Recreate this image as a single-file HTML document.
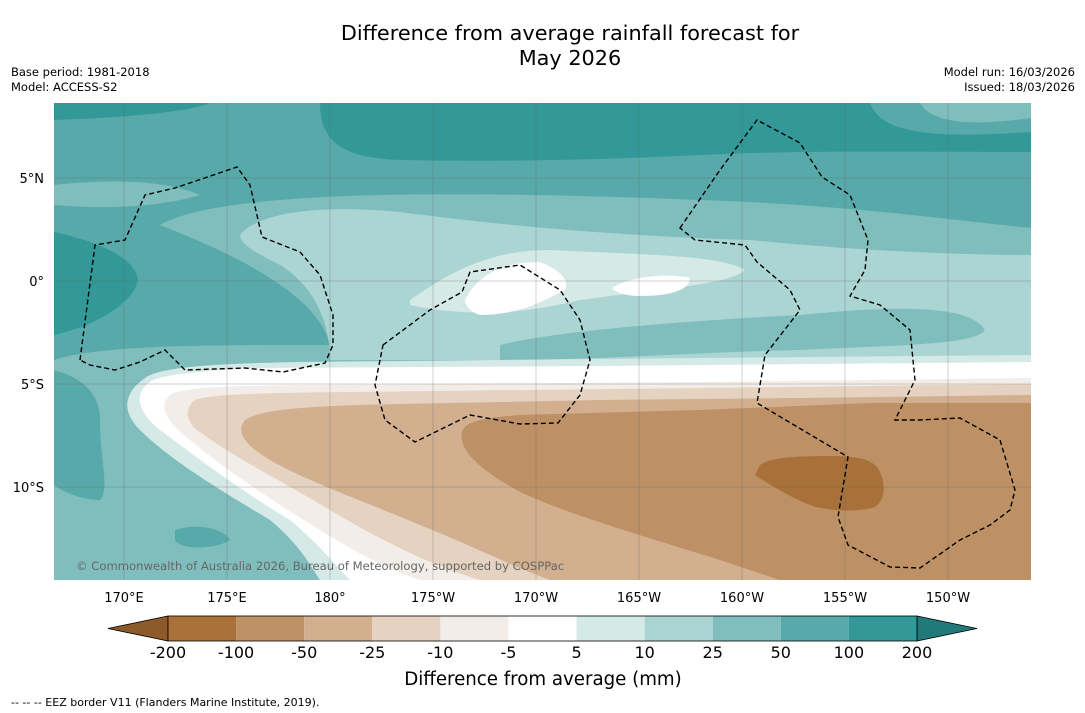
<!DOCTYPE html>
<html><head><meta charset="utf-8">
<style>
body{margin:0;background:#fff;font-family:"DejaVu Sans","Liberation Sans",sans-serif;}
#wrap{position:relative;width:1085px;height:713px;overflow:hidden;background:#fff;}
.t{position:absolute;white-space:nowrap;color:#000;}
</style></head><body>
<div id="wrap">
<div class="t" style="left:0;width:1140px;top:21px;text-align:center;font-size:20.8px;line-height:25px;">Difference from average rainfall forecast for<br>May 2026</div>
<div class="t" style="left:11px;top:65px;font-size:11.5px;line-height:15px;">Base period: 1981-2018<br>Model: ACCESS-S2</div>
<div class="t" style="right:10px;top:65px;font-size:11.5px;line-height:15px;text-align:right;">Model run: 16/03/2026<br>Issued: 18/03/2026</div>
<svg id="map" width="1085" height="713" style="position:absolute;left:0;top:0">
<defs><clipPath id="mc"><rect x="54" y="103" width="977" height="477"/></clipPath></defs>
<g clip-path="url(#mc)">
<rect x="54" y="103" width="977" height="477" fill="#58a9a9"/>
<path fill="#329998" d="M320,103 L1031,103 L1031,152 C900,152 800,150 700,155 C600,160 500,162 400,160 C340,158 320,140 320,103 Z"/>
<path fill="#58a9a9" d="M870,103 C880,130 920,140 1031,132 L1031,103 Z"/>
<path fill="#80bebd" d="M920,103 C930,120 960,128 1031,118 L1031,103 Z"/>
<path fill="#329998" d="M54,103 L210,103 C190,112 120,118 54,120 Z"/>
<path fill="#329998" d="M54,232 C90,240 135,255 138,280 C135,300 100,325 54,335 Z"/>
<path fill="#80bebd" d="M54,185 C100,180 160,178 200,195 C150,210 90,208 54,205 Z"/>
<path fill="#80bebd" d="M160,225 C220,190 450,190 700,200 C850,205 950,220 1031,228 L1031,580 L54,580 L54,360 C100,345 200,345 330,345 C320,300 250,260 160,225 Z"/>
<path fill="#58a9a9" d="M54,370 C90,380 100,400 100,420 C100,460 110,490 100,500 C80,500 60,490 54,485 Z"/>
<path fill="#58a9a9" d="M175,530 C200,522 225,530 230,540 C215,550 180,550 175,540 Z"/>
<path fill="#aad5d3" d="M240,235 C260,210 330,205 400,212 C500,225 600,235 750,240 C850,250 950,255 1031,255 L1031,360 L330,360 C330,330 320,290 280,265 C260,255 240,245 240,235 Z"/>
<path fill="#80bebd" d="M500,345 C560,330 700,320 800,315 C900,305 970,305 985,330 C975,345 900,345 800,350 C700,352 600,360 500,360 Z"/>
<path fill="#d5e9e7" d="M410,300 C440,280 480,250 550,250 C650,255 720,255 745,270 C730,285 650,290 580,300 C540,310 480,320 410,305 Z"/>
<path fill="#fff" d="M465,300 C480,270 510,262 540,262 C560,270 570,280 565,290 C545,300 520,315 480,315 C470,312 465,305 465,300 Z"/>
<path fill="#fff" d="M612,288 C630,276 670,273 690,278 C690,290 670,296 640,296 C625,296 615,292 612,288 Z"/>
<path fill="#d5e9e7" d="M1031,355 L700,358 L300,362 C200,364 160,368 145,378 C125,392 120,410 140,430 C170,460 220,490 270,520 C300,545 310,565 320,580 L1031,580 Z"/>
<path fill="#fff" d="M1031,362 L600,366 L250,368 C190,372 160,375 150,382 C135,392 135,410 160,430 C200,460 240,490 290,520 C320,545 335,565 350,580 L1031,580 Z"/>
<path fill="#f2ede8" d="M1031,378 L700,382 L300,385 C220,386 180,388 170,395 C158,405 165,420 190,440 C220,465 270,500 320,530 C360,555 390,570 420,580 L1031,580 Z"/>
<path fill="#e5d2c0" d="M1031,384 L700,388 L350,392 C260,393 210,394 195,400 C182,410 188,425 200,432 C230,455 280,480 330,510 C380,540 430,565 480,580 L1031,580 Z"/>
<path fill="#d1af8f" d="M1031,395 L800,398 L600,400 L400,404 C300,406 260,410 245,420 C235,432 245,445 270,460 C300,478 360,500 420,525 C470,545 510,565 550,580 L1031,580 Z"/>
<path fill="#bd9165" d="M1031,403 L870,403 L700,410 L520,415 C480,418 465,422 462,432 C458,450 480,470 520,492 C570,515 640,535 720,560 C750,570 765,575 780,580 L1031,580 Z"/>
<path fill="#a87139" d="M760,465 C770,458 790,456 830,456 C860,456 875,460 880,472 C886,485 885,500 875,507 C860,512 830,512 810,505 C790,497 770,485 755,475 Z"/>
</g>
<g id="grid" stroke="#666" stroke-width="0.5" opacity="0.6"></g>
<g fill="none" stroke="#000" stroke-width="1.4" stroke-dasharray="5,3">
<path d="M80,360 L95,245 L125,240 L145,195 L175,188 L237,167 L250,185 L262,237 L300,252 L320,275 L333,315 L333,345 L325,363 L283,372 L245,368 L185,370 L165,350 L140,362 L115,370 L90,365 Z"/>
<path d="M383,345 L430,310 L462,292 L470,272 L520,265 L560,290 L580,320 L590,360 L580,395 L558,423 L520,424 L470,415 L415,442 L385,420 L375,385 Z"/>
<path d="M680,228 L720,170 L757,120 L800,143 L822,177 L850,195 L868,240 L865,270 L850,296 L880,305 L910,330 L915,380 L895,420 L920,420 L960,418 L1000,440 L1015,490 L1010,510 L990,525 L960,540 L920,568 L890,567 L848,545 L838,517 L848,457 L757,403 L765,355 L800,310 L790,290 L757,262 L745,245 L695,240 Z"/>
</g>
<text x="76" y="570" font-size="11.6" fill="#666" font-family="DejaVu Sans, sans-serif">© Commonwealth of Australia 2026, Bureau of Meteorology, supported by COSPPac</text>
<g id="axes" font-family="DejaVu Sans, sans-serif" font-size="13"></g>
<g id="cbar" font-family="DejaVu Sans, sans-serif"></g>
<text x="543" y="685" text-anchor="middle" font-size="18.2" font-family="DejaVu Sans, sans-serif">Difference from average (mm)</text>
<text x="11" y="706" font-size="11" font-family="DejaVu Sans, sans-serif">--  --  -- EEZ border V11 (Flanders Marine Institute, 2019).</text>
</svg>
</div>
<script>
const lonLabels=["170°E","175°E","180°","175°W","170°W","165°W","160°W","155°W","150°W"];
const lonValues=[170,175,180,185,190,195,200,205,210];
const latLabels=["5°N","0°","5°S","10°S"];
const latValues=[5,0,-5,-10];
const levelLabels=["-200","-100","-50","-25","-10","-5","5","10","25","50","100","200"];
const levelColors=["#a87139","#bd9165","#d1af8f","#e5d2c0","#f2ede8","#ffffff","#d5e9e7","#aad5d3","#80bebd","#58a9a9","#329998"];
const extendColors=["#8e5a2a","#217a78"];
const NS="http://www.w3.org/2000/svg";
function xLon(l){return 124+(l-170)*20.6;}
function yLat(l){return 281-l*20.6;}
function mk(tag,attrs,parent){const e=document.createElementNS(NS,tag);for(const k in attrs)e.setAttribute(k,attrs[k]);parent.appendChild(e);return e;}
const grid=document.getElementById('grid'),axes=document.getElementById('axes'),cb=document.getElementById('cbar');
lonValues.forEach((v,i)=>{
  const x=xLon(v);
  const ln=mk('line',{x1:x,x2:x,y1:103,y2:580},grid);
  
  
  const t=mk('text',{x:x,y:602,'text-anchor':'middle'},axes);
  t.textContent=lonLabels[i];
  
  
});
latValues.forEach((v,i)=>{
  const y=yLat(v);
  const ln=mk('line',{x1:54,x2:1031,y1:y,y2:y},grid);
  
  
  const t=mk('text',{x:44,y:y+5,'text-anchor':'end'},axes);
  t.textContent=latLabels[i];
  
  
});
const cx0=168,cx1=917,cy=616,ch=25,n=levelColors.length,w=(cx1-cx0)/n;
const tl=mk('polygon',{points:`${cx0},${cy} ${cx0},${cy+ch} 108,${cy+ch/2}`,fill:extendColors[0],stroke:'#000','stroke-width':0.8},cb);


const tr=mk('polygon',{points:`${cx1},${cy} ${cx1},${cy+ch} 977,${cy+ch/2}`,fill:extendColors[1],stroke:'#000','stroke-width':0.8},cb);


levelColors.forEach((c,i)=>{
  const r=mk('rect',{x:cx0+i*w,y:cy,width:w,height:ch,fill:c},cb);
  
  
});
mk('rect',{x:cx0,y:cy,width:cx1-cx0,height:ch,fill:'none',stroke:'#000','stroke-width':0.8},cb);
levelLabels.forEach((s,i)=>{
  const t=mk('text',{x:cx0+i*w,y:658,'text-anchor':'middle','font-size':16},cb);
  t.textContent=s;
  
  
});
</script>
</body></html>
